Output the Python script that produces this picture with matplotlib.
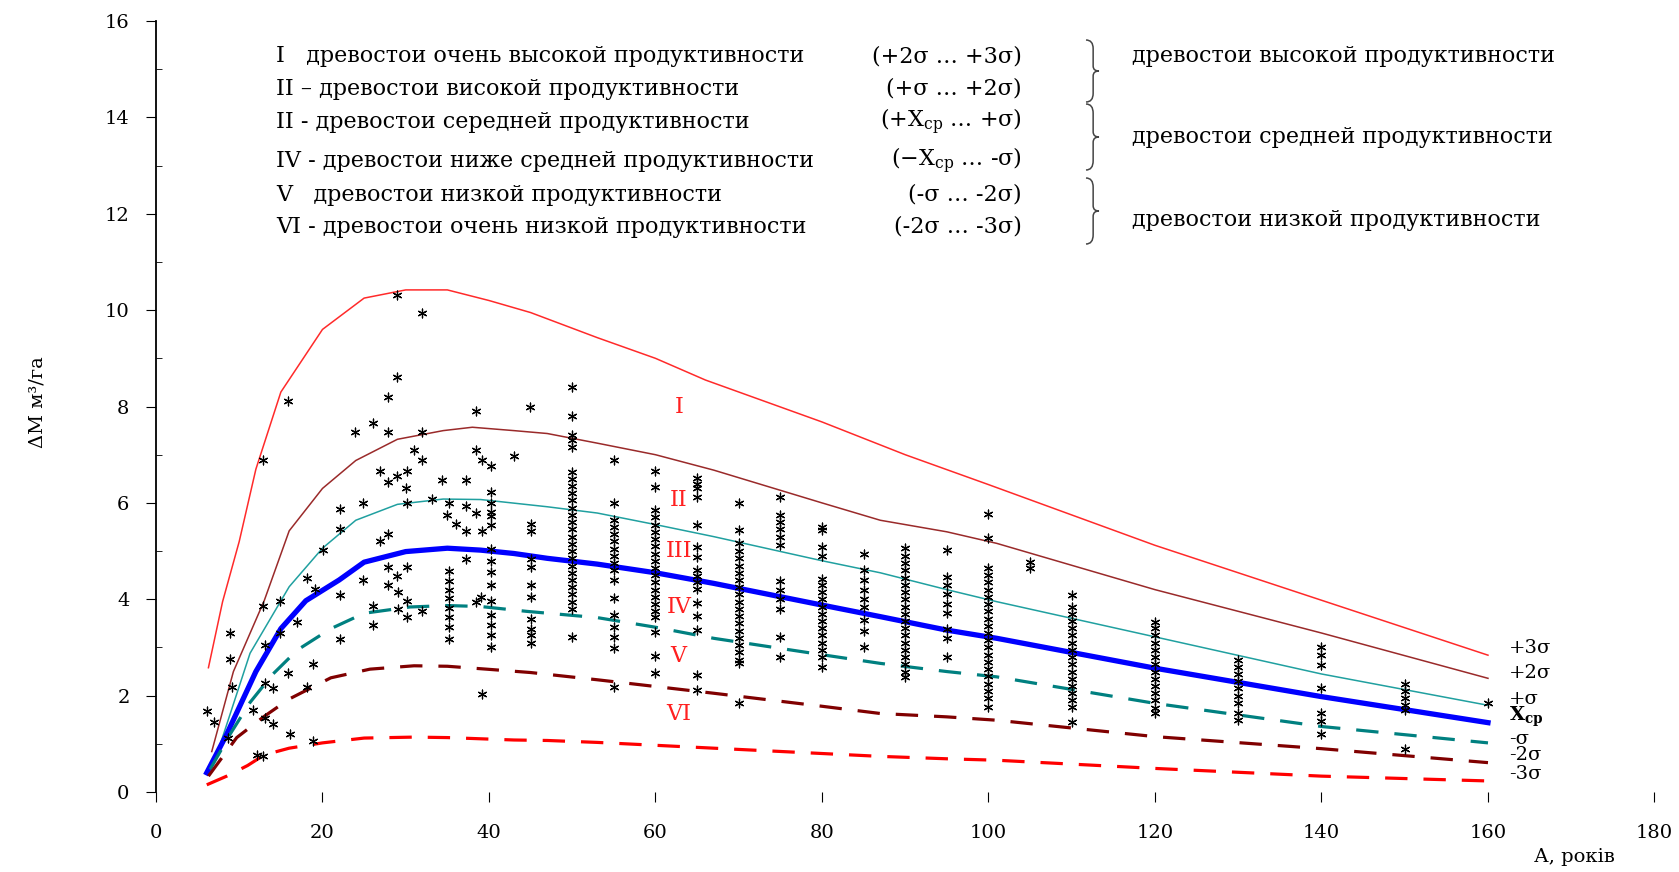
import matplotlib
matplotlib.use("Agg")
import matplotlib.pyplot as plt
from matplotlib.ticker import MultipleLocator
from matplotlib.path import Path
from matplotlib.patches import PathPatch

plt.rcParams["font.family"] = ["DejaVu Serif"]
plt.rcParams["mathtext.fontset"] = "dejavuserif"

# sigma curves (age, increment)
p3_x = [6.3, 8, 10, 12, 15, 20, 25, 30, 35, 40, 45, 53, 60, 66, 80, 90, 100, 120, 140, 160]
p3_y = [2.58, 3.95, 5.2, 6.7, 8.3, 9.6, 10.25, 10.42, 10.42, 10.2, 9.95, 9.43, 9.0, 8.55, 7.68, 7.0, 6.38, 5.12, 3.98, 2.84]

p2_x = [6.7, 9.3, 13, 16, 20, 24, 29, 34.5, 38, 43, 47, 53, 60, 67, 80, 87, 95, 101, 120, 140, 160]
p2_y = [0.84, 2.5, 3.97, 5.42, 6.3, 6.88, 7.32, 7.5, 7.57, 7.5, 7.44, 7.24, 7.0, 6.68, 6.0, 5.64, 5.4, 5.16, 4.2, 3.3, 2.36]

p1_x = [7.3, 11.3, 16, 20, 24, 29, 34.5, 39, 47, 53, 60, 67, 80, 87, 95, 101, 120, 140, 160]
p1_y = [0.77, 2.88, 4.26, 5.06, 5.64, 5.97, 6.08, 6.07, 5.92, 5.79, 5.55, 5.30, 4.8, 4.55, 4.2, 3.95, 3.22, 2.45, 1.8]

mean_x = [6.1, 8.5, 12, 15, 18, 22, 25, 30, 35, 39, 43, 47, 53, 60, 67, 80, 87, 95, 101, 120, 140, 160]
mean_y = [0.4, 1.2, 2.5, 3.39, 3.97, 4.4, 4.77, 4.99, 5.06, 5.02, 4.95, 4.85, 4.73, 4.55, 4.33, 3.88, 3.64, 3.36, 3.19, 2.57, 1.98, 1.44]

m1_x = [6.5, 8.9, 11.3, 14, 17, 21, 25, 30.5, 35, 39, 44.5, 53, 60, 67, 80, 87, 95, 101, 120, 140, 160]
m1_y = [0.47, 1.2, 1.86, 2.44, 2.95, 3.39, 3.71, 3.84, 3.87, 3.85, 3.75, 3.62, 3.42, 3.19, 2.85, 2.67, 2.5, 2.39, 1.84, 1.36, 1.02]

m2_x = [6.3, 9.7, 13, 16, 21, 25.7, 31, 35, 39.7, 45, 53, 60, 67, 80, 87, 95, 101, 120, 140, 160]
m2_y = [0.33, 1.13, 1.57, 1.93, 2.37, 2.55, 2.62, 2.61, 2.55, 2.48, 2.33, 2.19, 2.05, 1.78, 1.63, 1.56, 1.49, 1.15, 0.9, 0.61]

m3_x = [6.1, 8.5, 11, 13, 16, 20, 25, 31, 35, 43, 47, 53, 67, 87, 95, 101, 120, 140, 160]
m3_y = [0.15, 0.33, 0.55, 0.77, 0.91, 1.02, 1.12, 1.14, 1.13, 1.08, 1.07, 1.03, 0.91, 0.74, 0.69, 0.66, 0.49, 0.33, 0.23]

# scattered observations of young stands
young_x = [6.1, 7.0, 8.9, 8.9, 9.1, 8.7, 11.7, 13.1, 14.1, 12.1, 12.9, 13.1, 14.1, 12.9, 14.9,
           13.1, 14.9, 15.9, 16.1, 16.9, 18.9, 18.1, 18.9, 15.9, 12.9, 18.1, 19.1, 20.1, 22.1,
           22.1, 22.1, 22.1, 24.9, 23.9, 26.1, 27.9, 27.9, 28.9, 28.9, 32.0, 32.0, 31.0, 32.0,
           26.9, 27.9, 28.9, 30.1, 30.0, 30.1, 26.9, 27.9, 24.9, 26.1, 26.1, 27.9, 28.9, 30.1,
           27.9, 29.1, 30.1, 29.1, 30.1, 32.0, 34.3, 37.2, 33.2, 35.2, 37.2, 35.0, 36.0, 37.2,
           38.4, 39.2, 38.4, 39.2, 40.2, 43.0, 44.9, 38.4, 37.2, 39.2, 39.0, 38.5]
young_y = [1.68, 1.46, 3.31, 2.77, 2.18, 1.13, 1.71, 1.53, 1.42, 0.77, 0.75, 2.26, 2.16, 3.86, 3.97,
           3.06, 3.31, 2.48, 1.20, 3.53, 2.66, 2.18, 1.06, 8.12, 6.89, 4.44, 4.22, 5.03, 5.87,
           5.46, 4.08, 3.17, 6.0, 7.48, 7.66, 7.48, 8.19, 8.61, 10.31, 9.95, 7.48, 7.10, 6.88,
           6.66, 6.44, 6.55, 6.66, 6.31, 6.0, 5.2, 5.35, 4.40, 3.86, 3.46, 4.66, 4.48, 4.66,
           4.30, 4.15, 3.97, 3.79, 3.64, 3.75, 6.48, 6.48, 6.08, 6.0, 5.94, 5.75, 5.57, 5.42,
           5.79, 5.42, 7.10, 6.88, 6.77, 6.97, 7.98, 7.90, 4.84, 2.04, 4.05, 3.95]

# observations grouped by age class
col_35 = [4.59, 4.37, 4.19, 4.02, 3.82, 3.64, 3.42, 3.17]
col_40 = [6.22, 6.0, 5.82, 5.72, 5.54, 5.04, 4.79, 4.57, 4.30, 3.97, 3.68, 3.46, 3.25, 3.0]
col_45 = [5.57, 5.42, 4.84, 4.66, 4.30, 4.04, 3.60, 3.39, 3.25, 3.10]
col_50 = [8.41, 7.8, 7.41, 7.3, 7.16, 6.65, 6.5, 6.35, 6.2, 6.05, 5.9, 5.75, 5.6, 5.45, 5.3,
          5.15, 5.0, 4.85, 4.7, 4.55, 4.4, 4.25, 4.1, 3.95, 3.8, 3.22]
col_55 = [6.89, 5.99, 5.64, 5.5, 5.35, 5.2, 5.05, 4.9, 4.75, 4.6, 4.4, 4.02, 3.67, 3.43, 3.22, 2.98, 2.18]
col_60 = [6.67, 6.32, 5.85, 5.7, 5.55, 5.4, 5.25, 5.1, 4.95, 4.8, 4.65, 4.5, 4.35, 4.2, 4.05,
          3.9, 3.75, 3.63, 3.33, 2.82, 2.47]
col_65 = [6.51, 6.4, 6.3, 6.13, 5.54, 5.09, 4.88, 4.6, 4.48, 4.36, 4.22, 3.92, 3.65, 3.36, 2.43, 2.12]
col_70 = [5.99, 5.44, 5.16, 5.0, 4.85, 4.7, 4.55, 4.4, 4.25, 4.1, 3.95, 3.8, 3.65, 3.5, 3.35,
          3.2, 3.05, 2.9, 2.75, 2.67, 1.85]
col_75 = [6.13, 5.75, 5.6, 5.45, 5.3, 5.13, 4.37, 4.2, 4.0, 3.8, 3.22, 2.81]
col_80 = [5.5, 5.44, 5.09, 4.9, 4.43, 4.3, 4.15, 4.0, 3.85, 3.7, 3.55, 3.4, 3.25, 3.1, 2.95, 2.8, 2.6]
col_85 = [4.95, 4.6, 4.4, 4.2, 4.0, 3.85, 3.57, 3.35, 3.02]
col_90 = [5.06, 4.9, 4.75, 4.6, 4.45, 4.3, 4.15, 4.0, 3.85, 3.7, 3.55, 3.4, 3.25, 3.1, 2.95,
          2.8, 2.65, 2.5, 2.38]
col_95 = [5.03, 4.46, 4.3, 4.1, 3.91, 3.71, 3.39, 3.2, 2.81]
col_100 = [5.78, 5.28, 4.64, 4.5, 4.35, 4.2, 4.05, 3.9, 3.75, 3.6, 3.45, 3.3, 3.15, 3.0, 2.85,
           2.7, 2.55, 2.4, 2.25, 2.1, 1.95, 1.77]
col_105 = [4.78, 4.64]
col_110 = [4.09, 3.85, 3.7, 3.55, 3.4, 3.25, 3.1, 2.95, 2.8, 2.65, 2.5, 2.35, 2.2, 2.05, 1.9, 1.77, 1.46]
col_120 = [3.53, 3.4, 3.25, 3.1, 2.95, 2.8, 2.65, 2.5, 2.35, 2.2, 2.05, 1.9, 1.75, 1.63]
col_130 = [2.74, 2.6, 2.45, 2.3, 2.15, 2.0, 1.85, 1.65, 1.5]
col_140 = [3.01, 2.84, 2.64, 2.15, 1.63, 1.48, 1.2]
col_150 = [2.25, 2.1, 1.95, 1.8, 1.7, 0.9]
col_160 = [1.84]

columns = {35.2: col_35, 40.2: col_40, 45: col_45, 50: col_50, 55: col_55, 60: col_60,
           65: col_65, 70: col_70, 75: col_75, 80: col_80, 85: col_85, 90: col_90,
           95: col_95, 100: col_100, 105: col_105, 110: col_110, 120: col_120,
           130: col_130, 140: col_140, 150: col_150, 160: col_160}

class_labels = ["I", "II", "III", "IV", "V", "VI"]
class_y = [8.0, 6.07, 5.0, 3.84, 2.82, 1.62]

curve_labels = ["+3σ", "+2σ", "+σ", "X$_{\\mathbf{ср}}$", "-σ", "-2σ", "-3σ"]
curve_label_y = [2.98, 2.47, 1.93, 1.56, 1.1, 0.76, 0.37]

legend_left = ["I   древостои очень высокой продуктивности",
               "II – древостои високой продуктивности",
               "II - древостои середней продуктивности",
               "IV - древостои ниже средней продуктивности",
               "V   древостои низкой продуктивности",
               "VI - древостои очень низкой продуктивности"]
legend_ranges = ["(+2σ … +3σ)", "(+σ … +2σ)", "(+X$_{\\mathrm{ср}}$ … +σ)",
                 "(−X$_{\\mathrm{ср}}$ … -σ)", "(-σ … -2σ)", "(-2σ … -3σ)"]
legend_groups = ["древостои высокой продуктивности",
                 "древостои средней продуктивности",
                 "древостои низкой продуктивности"]

W, H = 1679, 872
fig = plt.figure(figsize=(W / 100, H / 100), dpi=100)
ax = fig.add_axes([0.0929, 0.0917, 0.8925, 0.8842])

# observations
xs, ys = list(young_x), list(young_y)
for age, vals in columns.items():
    xs += [age] * len(vals)
    ys += vals
ax.scatter(xs, ys, marker=(6, 2, 0), s=40, color="black", linewidths=0.9, zorder=3)

ax.plot(p3_x, p3_y, color="#ff2a2a", lw=1.1, zorder=2)
ax.plot(p2_x, p2_y, color="#9a2a2a", lw=1.1, zorder=2)
ax.plot(p1_x, p1_y, color="#20a0a0", lw=1.1, zorder=2)
ax.plot(mean_x, mean_y, color="#0000ff", lw=3.8, zorder=2)
ax.plot(m1_x, m1_y, color="#008080", lw=2.3, dashes=(7, 5), zorder=2)
ax.plot(m2_x, m2_y, color="#800000", lw=2.3, dashes=(7, 5), zorder=2)
ax.plot(m3_x, m3_y, color="#ff0000", lw=2.3, dashes=(7, 5), zorder=2)

for lab, y in zip(class_labels, class_y):
    ax.text(62.8, y, lab, color="#ff2020", fontsize=16, ha="center", va="center")

for lab, y in zip(curve_labels, curve_label_y):
    w = "bold" if "X" in lab else "normal"
    ax.text(162.5, y, lab, fontsize=14, fontweight=w, ha="left", va="center", clip_on=False)

# legend block (positions in reference pixels, y from top)
def fy(px):
    return 1 - px / H

leg_y = [56, 89, 122, 161, 195, 227]
for txt, rng, yy in zip(legend_left, legend_ranges, leg_y):
    fig.text(276 / W, fy(yy), txt, fontsize=16, ha="left", va="center")
    fig.text(1022 / W, fy(yy), rng, fontsize=16, ha="right", va="center")


def brace(x0, ytop, ybot, w=13):
    xm = x0 + w * 0.55
    ym = (ytop + ybot) / 2
    h = ybot - ytop
    pts = [(x0, ytop), (xm, ytop), (xm, ytop + 0.14 * h), (xm, ym - 0.08 * h),
           (xm, ym), (x0 + w, ym), (xm, ym), (xm, ym + 0.08 * h),
           (xm, ybot - 0.14 * h), (xm, ybot), (x0, ybot)]
    codes = [Path.MOVETO, Path.CURVE3, Path.CURVE3, Path.LINETO, Path.CURVE3, Path.CURVE3,
             Path.CURVE3, Path.CURVE3, Path.LINETO, Path.CURVE3, Path.CURVE3]
    verts = [(px / W, fy(py)) for px, py in pts]
    fig.patches.append(PathPatch(Path(verts, codes), transform=fig.transFigure,
                                 fill=False, lw=1.1, edgecolor="#444444"))


for (ytop, ybot, ytxt), txt in zip([(40, 102, 56), (104, 170, 137), (178, 244, 220)], legend_groups):
    brace(1086, ytop, ybot)
    fig.text(1132 / W, fy(ytxt), txt, fontsize=16, ha="left", va="center")

ax.set_xlim(0, 180)
ax.set_ylim(0, 16)
ax.xaxis.set_major_locator(MultipleLocator(20))
ax.yaxis.set_major_locator(MultipleLocator(2))
ax.yaxis.set_minor_locator(MultipleLocator(1))
for s in ["top", "right", "bottom"]:
    ax.spines[s].set_visible(False)
ax.spines["left"].set_linewidth(1.3)
ax.tick_params(axis="x", direction="out", length=7, pad=16, labelsize=14)
ax.tick_params(axis="y", which="major", direction="out", length=7, pad=12, labelsize=14)
ax.tick_params(axis="y", which="minor", direction="in", length=4)

fig.text(38 / W, fy(402), "ΔМ м³/га", rotation=90, fontsize=14, ha="center", va="center")
fig.text(1574 / W, fy(857), "А, років", fontsize=14, ha="center", va="center")

fig.savefig("out.png", dpi=100)
